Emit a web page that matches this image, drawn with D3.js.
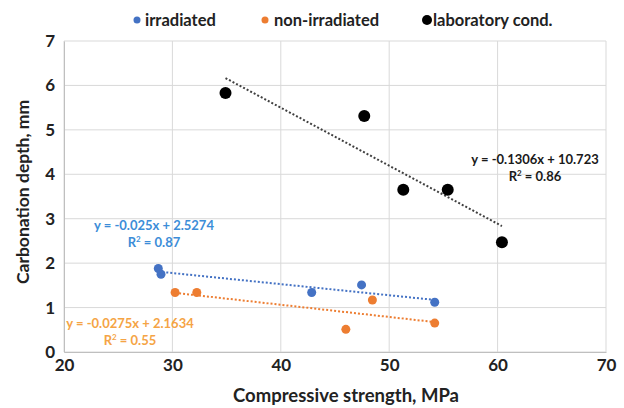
<!DOCTYPE html>
<html>
<head>
<meta charset="utf-8">
<script src="https://cdn.jsdelivr.net/npm/d3@7"></script>
<style>
  html, body { margin: 0; padding: 0; background: #fff; }
  svg { display: block; font-family: Lato, "Open Sans", sans-serif; font-weight: 700; }
</style>
</head>
<body>
<svg id="chart" width="624" height="408"></svg>
<script>
// Compressive strength (MPa) vs carbonation depth (mm)
const irradiatedX = [28.7, 28.95, 42.85, 47.45, 54.2];
const irradiatedY = [1.88, 1.75, 1.34, 1.51, 1.12];
const nonIrradiatedX = [30.25, 32.25, 46.0, 48.45, 54.2];
const nonIrradiatedY = [1.34, 1.34, 0.51, 1.17, 0.65];
const labX = [34.9, 47.7, 51.3, 55.4, 60.4];
const labY = [5.83, 5.31, 3.65, 3.65, 2.47];

// Linear trendline coefficients (slope, intercept) and R²
const irradiatedFit = { slope: -0.025, intercept: 2.5274, r2: "0.87" };
const nonIrradiatedFit = { slope: -0.0275, intercept: 2.1634, r2: "0.55" };
const labFit = { slope: -0.1306, intercept: 10.723, r2: "0.86" };

const xTicks = [20, 30, 40, 50, 60, 70];
const yTicks = [0, 1, 2, 3, 4, 5, 6, 7];
const seriesNames = ["irradiated", "non-irradiated", "laboratory cond."];

const svg = d3.select("#chart");
const margin = { left: 64, right: 18, top: 41, bottom: 56 };
const W = 624, H = 408;

const x = d3.scaleLinear().domain([20, 70]).range([margin.left, W - margin.right]);
const y = d3.scaleLinear().domain([0, 7]).range([H - margin.bottom, margin.top]);

const series = [
  { name: seriesNames[0], xs: irradiatedX, ys: irradiatedY, fit: irradiatedFit,
    color: "#4472C4", lineColor: "#4472C4", textColor: "#3C8DD8", r: 4.5,
    label: { x: 154, y: 230 } },
  { name: seriesNames[1], xs: nonIrradiatedX, ys: nonIrradiatedY, fit: nonIrradiatedFit,
    color: "#ED7D31", lineColor: "#ED7D31", textColor: "#F5A445", r: 4.5,
    label: { x: 130, y: 328 } },
  { name: seriesNames[2], xs: labX, ys: labY, fit: labFit,
    color: "#000000", lineColor: "#404040", textColor: "#1a1a1a", r: 6,
    label: { x: 535, y: 164 } }
];

// Gridlines
const grid = svg.append("g");
grid.selectAll("line.v").data(xTicks).join("line")
  .attr("x1", d => x(d)).attr("x2", d => x(d))
  .attr("y1", y(0)).attr("y2", y(7))
  .attr("stroke", "#d9d9d9").attr("stroke-width", 1);
grid.selectAll("line.h").data(yTicks).join("line")
  .attr("x1", x(20)).attr("x2", x(70))
  .attr("y1", d => y(d)).attr("y2", d => y(d))
  .attr("stroke", "#d9d9d9").attr("stroke-width", 1);

// Axes (tick labels only; lines come from the grid)
const xAxis = svg.append("g")
  .attr("transform", `translate(0,${y(0)})`)
  .call(d3.axisBottom(x).tickValues(xTicks).tickFormat(d3.format("d")).tickSize(0).tickPadding(7));
xAxis.select(".domain").attr("stroke", "#bfbfbf");
xAxis.selectAll("text").attr("font-size", 17).attr("font-family", "Lato").attr("font-weight", 700).attr("fill", "#222");

const yAxis = svg.append("g")
  .attr("transform", `translate(${x(20)},0)`)
  .call(d3.axisLeft(y).tickValues(yTicks).tickFormat(d3.format("d")).tickSize(0).tickPadding(9));
yAxis.select(".domain").attr("stroke", "#bfbfbf");
yAxis.selectAll("text").attr("font-size", 17).attr("font-family", "Lato").attr("font-weight", 700).attr("fill", "#222");

// Trendlines across each series' x range
const line = d3.line().x(d => x(d[0])).y(d => y(d[1]));
series.forEach(s => {
  const [x0, x1] = d3.extent(s.xs);
  const pts = [x0, x1].map(v => [v, s.fit.slope * v + s.fit.intercept]);
  svg.append("path").datum(pts)
    .attr("d", line)
    .attr("fill", "none")
    .attr("stroke", s.lineColor)
    .attr("stroke-width", 2)
    .attr("stroke-dasharray", "2,2");
});

// Points
series.forEach(s => {
  svg.append("g").selectAll("circle").data(d3.zip(s.xs, s.ys)).join("circle")
    .attr("cx", d => x(d[0])).attr("cy", d => y(d[1]))
    .attr("r", s.r).attr("fill", s.color);
});

// Trendline equations
const fmtEq = f => `y = ${f.slope}x + ${f.intercept}`;
series.forEach(s => {
  const t = svg.append("text")
    .attr("x", s.label.x).attr("y", s.label.y)
    .attr("text-anchor", "middle")
    .attr("font-size", 13)
    .attr("fill", s.textColor);
  t.text(fmtEq(s.fit));
  const r = svg.append("text")
    .attr("x", s.label.x).attr("y", s.label.y + 17)
    .attr("text-anchor", "middle")
    .attr("font-size", 13)
    .attr("fill", s.textColor);
  r.append("tspan").text("R");
  r.append("tspan").attr("font-size", 8).attr("dy", -5).text("2");
  r.append("tspan").attr("dy", 5).text(` = ${s.fit.r2}`);
});

// Legend
const legendPos = [{ cx: 137, tx: 145 }, { cx: 265, tx: 274 }, { cx: 427, tx: 433 }];
series.forEach((s, i) => {
  svg.append("circle").attr("cx", legendPos[i].cx).attr("cy", 20)
    .attr("r", s.r === 6 ? 5 : 3.5).attr("fill", s.color);
  svg.append("text").attr("x", legendPos[i].tx).attr("y", 25.5)
    .attr("font-size", 16.5).attr("fill", "#222").text(s.name);
});

// Axis titles
svg.append("text")
  .attr("x", 346).attr("y", 402)
  .attr("text-anchor", "middle")
  .attr("font-size", 18.5).attr("fill", "#222")
  .text("Compressive strength, MPa");
svg.append("text")
  .attr("transform", `translate(29,${192}) rotate(-90)`)
  .attr("text-anchor", "middle")
  .attr("font-size", 17.5).attr("fill", "#222")
  .text("Carbonation depth, mm");
</script>
</body>
</html>
